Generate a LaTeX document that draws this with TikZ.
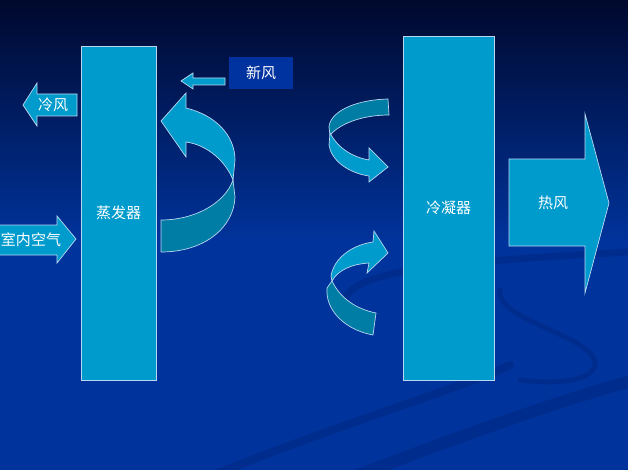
\documentclass[tikz,border=0pt]{standalone}
\usepackage{fontspec}
\newfontfamily\cjk{Noto Sans CJK SC}
\definecolor{bgtop}{RGB}{0,8,45}
\definecolor{bgbot}{RGB}{0,51,155}
\definecolor{fillL}{RGB}{0,155,205}
\definecolor{fillD}{RGB}{0,125,165}
\definecolor{edgec}{RGB}{185,215,240}
\definecolor{boxblue}{RGB}{0,50,160}
\definecolor{swoosh}{RGB}{0,35,120}
\begin{document}
\begin{tikzpicture}[x=1pt,y=-1pt,
  part/.style={fill=fillL, draw=edgec, line width=0.7pt, line join=miter},
  back/.style={fill=fillD, draw=edgec, line width=0.7pt, line join=miter},
  lbl/.style={text=white, font=\cjk\fontsize{15}{17}\selectfont, inner sep=0pt}]
\useasboundingbox (0,0) rectangle (628,470);
% background
\shade[top color=bgtop, bottom color=bgbot] (0,0) rectangle (628,240);
\fill[bgbot] (0,239.5) rectangle (628,470);
% faint swooshes
\begin{scope}[draw=swoosh, opacity=0.4, line cap=round]
\draw[line width=7pt] (345,300) .. controls (352,270) and (450,262) .. (628,252);
\draw[line width=5pt] (500,290) .. controls (495,320) and (590,335) .. (595,362) .. controls (597,380) and (560,385) .. (520,380);
\draw[line width=8pt] (200,480) .. controls (350,420) and (470,385) .. (510,365);
\draw[line width=12pt] (350,478) .. controls (450,440) and (560,400) .. (628,382);
\end{scope}
% evaporator and condenser
\node[part, lbl, minimum width=75, minimum height=334] (evap) at (118.5,213) {蒸发器};
\node[part, lbl, minimum width=91, minimum height=344] (cond) at (448.5,208) {冷凝器};
% fresh air box
\node[fill=boxblue, lbl, minimum width=64, minimum height=32] (fresh) at (261,73) {新风};
% cold air arrow
\draw[part] (23,105) -- (37,83) -- (37,94) -- (77,94) -- (77,116) -- (37,116) -- (37,126) -- cycle;
\node[lbl] (cold) at (53,105) {冷风};
% room air arrow
\draw[part] (-2,225) -- (57,225) -- (57,216) -- (76,239) -- (57,263) -- (57,255) -- (-2,255) -- cycle;
\node[lbl] (room) at (31,240) {室内空气};
% fresh air small arrow
\draw[part] (181,81) -- (193,73) -- (193,78) -- (225,78) -- (225,85) -- (193,85) -- (193,89) -- cycle;
% big curved arrow by evaporator
\draw[back] (161,220) .. controls (195,220) and (225,203) .. (233,180) -- (235,197) .. controls (234,227) and (205,252) .. (161,252) -- cycle;
\draw[part] (161,121) -- (186,93) -- (186,108) .. controls (215,115) and (235,135) .. (235,160) -- (233,180) .. controls (226,162) and (208,145) .. (186,142) -- (186,157) -- cycle;
% upper small curved arrow
\draw[back] (388,99) .. controls (352,100) and (330,113) .. (329,127) -- (330,135) .. controls (342,122) and (365,115) .. (389,115) -- cycle;
\draw[part] (330,133) .. controls (338,148) and (352,157) .. (369,160) -- (369,148) -- (388,167) -- (369,182) -- (369,176) .. controls (348,173) and (331,160) .. (329,145) -- cycle;
% lower small curved arrow
\draw[part] (331,276) .. controls (334,258) and (352,245) .. (373,242) -- (374,231) -- (388,253) -- (367,273) -- (369,263) .. controls (352,264) and (338,270) .. (332,281) -- cycle;
\draw[back] (332,281) .. controls (340,298) and (356,309) .. (376,313) -- (373,335) .. controls (345,330) and (325,310) .. (327,288) -- cycle;
% hot air arrow
\draw[part] (509,159) -- (585,159) -- (585,114) -- (609,203) -- (585,293) -- (585,246) -- (509,246) -- cycle;
\node[lbl] (hot) at (553,203) {热风};
\end{tikzpicture}
\end{document}
